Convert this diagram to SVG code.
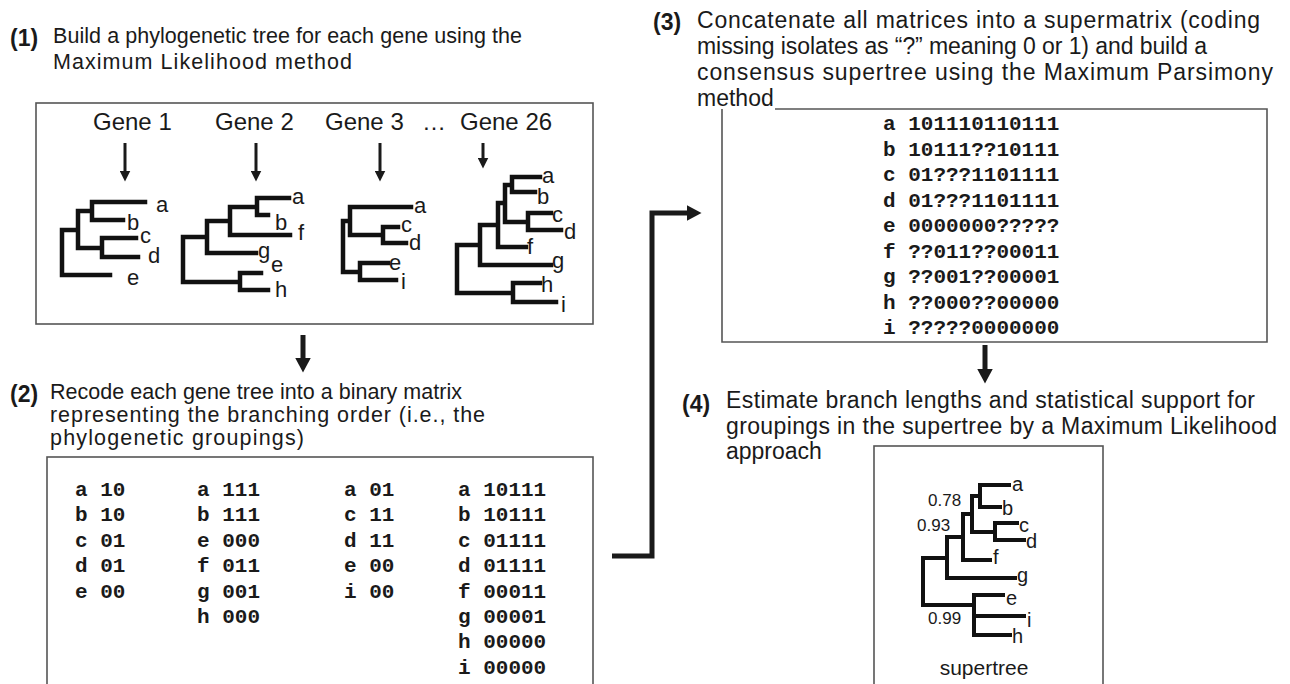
<svg xmlns="http://www.w3.org/2000/svg" width="1290" height="684" viewBox="0 0 1290 684">
<defs>
<style>
.hd{font-family:"Liberation Sans",Arial,sans-serif;font-size:21.5px;fill:#1a1a1a}
.hd2{font-family:"Liberation Sans",Arial,sans-serif;font-size:23px;fill:#1a1a1a}
.num{font-family:"Liberation Sans",Arial,sans-serif;font-size:23px;font-weight:bold;fill:#1a1a1a}
.gene{font-family:"Liberation Sans",Arial,sans-serif;font-size:24px;fill:#1a1a1a}
.tl{font-family:"Liberation Sans",Arial,sans-serif;font-size:22px;fill:#1a1a1a}
.sl{font-family:"Liberation Sans",Arial,sans-serif;font-size:20px;fill:#1a1a1a}
.bs{font-family:"Liberation Sans",Arial,sans-serif;font-size:17px;fill:#1a1a1a}
.mx{font-family:"Liberation Mono","Courier New",monospace;font-size:21px;font-weight:bold;fill:#1a1a1a}
.box{fill:none;stroke:#555;stroke-width:1.6}
.tree{fill:none;stroke:#111;stroke-width:4.5;stroke-linecap:square}
.stree{fill:none;stroke:#111;stroke-width:4;stroke-linecap:square}
.big{fill:none;stroke:#1a1a1a;stroke-width:5}
.small{fill:none;stroke:#1a1a1a;stroke-width:3}
</style>
<marker id="bigHead" markerUnits="userSpaceOnUse" markerWidth="15" markerHeight="16" viewBox="0 0 15 16" refX="0.5" refY="8" orient="auto">
<path d="M0,0 L15,8 L0,16 z" fill="#1a1a1a"/>
</marker>
<marker id="smallHead" markerUnits="userSpaceOnUse" markerWidth="11" markerHeight="11" viewBox="0 0 11 11" refX="0.5" refY="5.5" orient="auto">
<path d="M0,0 L11,5.5 L0,11 z" fill="#1a1a1a"/>
</marker>
</defs>
<rect width="1290" height="684" fill="#fff"/>

<g id="step1">
<text class="num" x="10" y="46">(1)</text>
<text class="hd" x="53" y="43" textLength="469" lengthAdjust="spacing">Build a phylogenetic tree for each gene using the</text>
<text class="hd" x="53" y="69" textLength="299" lengthAdjust="spacing">Maximum Likelihood method</text>
<rect class="box" x="36" y="103" width="557" height="221"/>
<text class="gene" x="93" y="130">Gene 1</text>
<text class="gene" x="215" y="130">Gene 2</text>
<text class="gene" x="325" y="130">Gene 3</text>
<text class="gene" x="422" y="130">…</text>
<text class="gene" x="460" y="130">Gene 26</text>
</g>

<g id="gene1-tree">
<path class="tree" d="M92,202 H145 M92,220 H123 M92,202 V220 M102,238 H136 M102,257 H138 M102,238 V257 M78,211 V248 M78,211 H92 M78,248 H102 M62,230 V275 M62,230 H78 M62,275 H110"/>
<text class="tl" x="156" y="212">a</text>
<text class="tl" x="127" y="230">b</text>
<text class="tl" x="140" y="243">c</text>
<text class="tl" x="148" y="263">d</text>
<text class="tl" x="127" y="285">e</text>
</g>

<g id="gene2-tree">
<path class="tree" d="M257,198 H289 M257,215 H268 M257,198 V215 M230,207 V235 M230,207 H257 M230,235 H290 M207,221 V253 M207,221 H230 M207,253 H256 M240,273 V290 M240,273 H261 M240,290 H268 M183,237 V282 M183,237 H207 M183,282 H240"/>
<text class="tl" x="292" y="204">a</text>
<text class="tl" x="275" y="230">b</text>
<text class="tl" x="298" y="240">f</text>
<text class="tl" x="258" y="258">g</text>
<text class="tl" x="271" y="272">e</text>
<text class="tl" x="275" y="297">h</text>
</g>

<g id="gene3-tree">
<path class="tree" d="M350,207 H411 M383,227 H398 M383,243 H406 M383,227 V243 M350,207 V235 M350,235 H383 M360,263 H388 M360,280 H396 M360,263 V280 M343,221 V272 M343,221 H350 M343,272 H360"/>
<text class="tl" x="414" y="213">a</text>
<text class="tl" x="401" y="232">c</text>
<text class="tl" x="409" y="250">d</text>
<text class="tl" x="389" y="270">e</text>
<text class="tl" x="401" y="289">i</text>
</g>

<g id="gene26-tree">
<path class="tree" d="M512,177 H540 M512,192 H535 M512,177 V192 M528,213 H551 M528,230 H561 M528,213 V230 M505,185 V222 M505,185 H512 M505,222 H528 M498,203 V247 M498,203 H505 M498,247 H526 M480,225 V265 M480,225 H498 M480,265 H551 M513,283 H540 M513,302 H556 M513,283 V302 M457,245 V293 M457,245 H480 M457,293 H513"/>
<text class="tl" x="542" y="183">a</text>
<text class="tl" x="537" y="204">b</text>
<text class="tl" x="552" y="222">c</text>
<text class="tl" x="564" y="239">d</text>
<text class="tl" x="527" y="254">f</text>
<text class="tl" x="552" y="268">g</text>
<text class="tl" x="541" y="292">h</text>
<text class="tl" x="561" y="312">i</text>
</g>

<g id="step2">
<text class="num" x="10" y="402">(2)</text>
<text class="hd" x="50" y="399" textLength="412" lengthAdjust="spacing">Recode each gene tree into a binary matrix</text>
<text class="hd" x="50" y="422" textLength="435" lengthAdjust="spacing">representing the branching order (i.e., the</text>
<text class="hd" x="50" y="445" textLength="254" lengthAdjust="spacing">phylogenetic groupings)</text>
<rect class="box" x="47" y="457" width="546" height="260"/>
<text class="mx" x="75" y="496">a 10</text>
<text class="mx" x="75" y="521.4">b 10</text>
<text class="mx" x="75" y="546.8">c 01</text>
<text class="mx" x="75" y="572.2">d 01</text>
<text class="mx" x="75" y="597.6">e 00</text>
<text class="mx" x="197" y="496">a 111</text>
<text class="mx" x="197" y="521.4">b 111</text>
<text class="mx" x="197" y="546.8">e 000</text>
<text class="mx" x="197" y="572.2">f 011</text>
<text class="mx" x="197" y="597.6">g 001</text>
<text class="mx" x="197" y="623">h 000</text>
<text class="mx" x="344" y="496">a 01</text>
<text class="mx" x="344" y="521.4">c 11</text>
<text class="mx" x="344" y="546.8">d 11</text>
<text class="mx" x="344" y="572.2">e 00</text>
<text class="mx" x="344" y="597.6">i 00</text>
<text class="mx" x="458" y="496">a 10111</text>
<text class="mx" x="458" y="521.4">b 10111</text>
<text class="mx" x="458" y="546.8">c 01111</text>
<text class="mx" x="458" y="572.2">d 01111</text>
<text class="mx" x="458" y="597.6">f 00011</text>
<text class="mx" x="458" y="623">g 00001</text>
<text class="mx" x="458" y="648.4">h 00000</text>
<text class="mx" x="458" y="673.8">i 00000</text>
</g>

<g id="step3">
<text class="num" x="653" y="30">(3)</text>
<text class="hd2" x="697" y="28" textLength="563" lengthAdjust="spacing">Concatenate all matrices into a supermatrix (coding</text>
<text class="hd2" x="697" y="54" textLength="510" lengthAdjust="spacing">missing isolates as “?” meaning 0 or 1) and build a</text>
<text class="hd2" x="697" y="80" textLength="576" lengthAdjust="spacing">consensus supertree using the Maximum Parsimony</text>
<text class="hd2" x="697" y="106">method</text>
<path class="box" d="M775,109 H1267 V342 H722 V109"/>
<text class="mx" x="883" y="130">a 101110110111</text>
<text class="mx" x="883" y="155.5">b 10111??10111</text>
<text class="mx" x="883" y="181">c 01???1101111</text>
<text class="mx" x="883" y="206.5">d 01???1101111</text>
<text class="mx" x="883" y="232">e 0000000?????</text>
<text class="mx" x="883" y="257.5">f ??011??00011</text>
<text class="mx" x="883" y="283">g ??001??00001</text>
<text class="mx" x="883" y="308.5">h ??000??00000</text>
<text class="mx" x="883" y="334">i ?????0000000</text>
</g>

<g id="step4">
<text class="num" x="682" y="412">(4)</text>
<text class="hd2" x="726" y="408" textLength="529" lengthAdjust="spacing">Estimate branch lengths and statistical support for</text>
<text class="hd2" x="726" y="434" textLength="551" lengthAdjust="spacing">groupings in the supertree by a Maximum Likelihood</text>
<text class="hd2" x="726" y="459">approach</text>
<rect class="box" x="874" y="446" width="229" height="260"/>
</g>

<g id="supertree">
<path class="stree" d="M980,485 H1009 M980,507 H1000 M980,485 V507 M995,523 H1017 M995,540 H1024 M995,523 V540 M972,496 V532 M972,496 H980 M972,532 H995 M963,514 V560 M963,514 H972 M963,560 H990 M947,537 V578 M947,537 H963 M947,578 H1015 M974,595 V635 M974,595 H1003 M974,616 H1024 M974,635 H1010 M923,558 V605 M923,558 H947 M923,605 H974"/>
<text class="sl" x="1012" y="491">a</text>
<text class="sl" x="1002" y="515">b</text>
<text class="sl" x="1019" y="532">c</text>
<text class="sl" x="1026" y="548">d</text>
<text class="sl" x="993" y="564">f</text>
<text class="sl" x="1017" y="582">g</text>
<text class="sl" x="1006" y="605">e</text>
<text class="sl" x="1027" y="627">i</text>
<text class="sl" x="1012" y="643">h</text>
<text class="bs" x="928" y="506">0.78</text>
<text class="bs" x="917" y="531">0.93</text>
<text class="bs" x="928" y="624">0.99</text>
<text class="sl" x="984" y="675" text-anchor="middle" style="font-size:21px">supertree</text>
</g>

<g id="connectors">
<line class="small" x1="125" y1="143" x2="125" y2="171" marker-end="url(#smallHead)"/>
<line class="small" x1="256" y1="143" x2="256" y2="171" marker-end="url(#smallHead)"/>
<line class="small" x1="380" y1="143" x2="380" y2="171" marker-end="url(#smallHead)"/>
<line class="small" x1="483" y1="143" x2="483" y2="158" marker-end="url(#smallHead)"/>
<line class="big" x1="303" y1="335" x2="303" y2="358" marker-end="url(#bigHead)"/>
<polyline class="big" points="612,556 652,556 652,213 687,213" marker-end="url(#bigHead)"/>
<line class="big" x1="985" y1="345" x2="985" y2="369" marker-end="url(#bigHead)"/>
</g>
</svg>
